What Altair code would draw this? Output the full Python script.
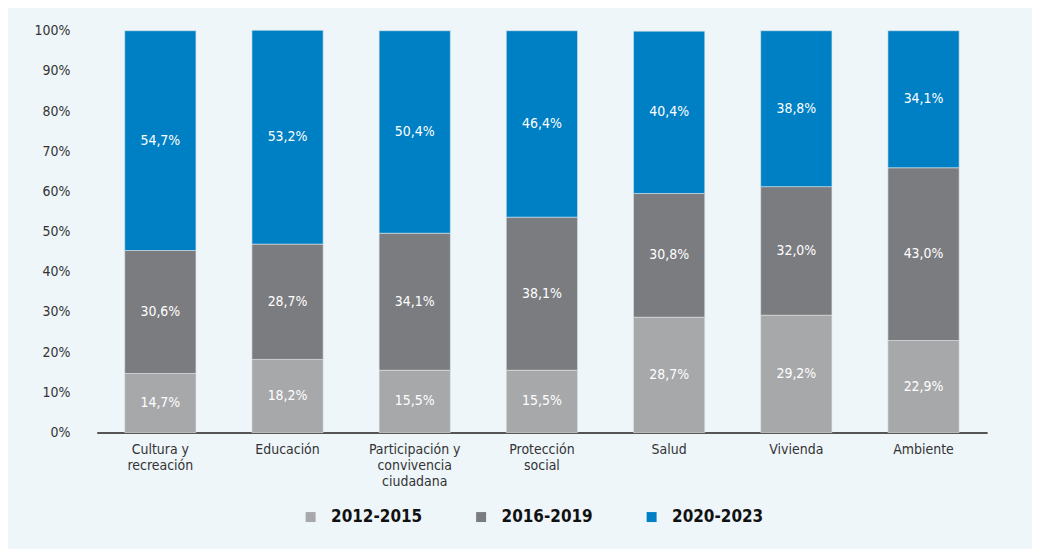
import json
import altair as alt
import pandas as pd

categories = ["Cultura y recreación", "Educación", "Participación y convivencia ciudadana",
              "Protección social", "Salud", "Vivienda", "Ambiente"]
category_lines = [["Cultura y", "recreación"], ["Educación"],
                  ["Participación y", "convivencia", "ciudadana"],
                  ["Protección", "social"], ["Salud"], ["Vivienda"], ["Ambiente"]]
periods = ["2012-2015", "2016-2019", "2020-2023"]
colors = ["#A7A8AA", "#7B7C7F", "#0080C4"]
v_2012_2015 = [14.7, 18.2, 15.5, 15.5, 28.7, 29.2, 22.9]
v_2016_2019 = [30.6, 28.7, 34.1, 38.1, 30.8, 32.0, 43.0]
v_2020_2023 = [54.7, 53.2, 50.4, 46.4, 40.4, 38.8, 34.1]
y_ticks = [0, 10, 20, 30, 40, 50, 60, 70, 80, 90, 100]

rows = []
for pi, (p, vals) in enumerate(zip(periods, [v_2012_2015, v_2016_2019, v_2020_2023])):
    for c, v in zip(categories, vals):
        rows.append({"cat": c, "period": p, "order": pi, "value": v,
                     "label": f"{v:.1f}".replace(".", ",") + "%"})
df = pd.DataFrame(rows)

label_map = json.dumps(dict(zip(categories, category_lines)), ensure_ascii=False)
FONT = "DejaVu Sans Condensed, Liberation Sans Narrow, sans-serif"

x_enc = alt.X("cat:N", sort=categories,
              scale=alt.Scale(paddingInner=0.44, paddingOuter=0.22),
              axis=alt.Axis(title=None, labelAngle=0, ticks=False, domainColor="#555555",
                            domainWidth=2, labelFontSize=14, labelColor="#333333",
                            labelPadding=10, labelLineHeight=16, labelFont=FONT,
                            labelExpr=label_map + "[datum.label]"))

bars = alt.Chart(df).mark_bar(stroke="#dfe5e8", strokeWidth=0.6).encode(
    x=x_enc,
    y=alt.Y("value:Q", stack="zero", scale=alt.Scale(domain=[0, 100], nice=False),
            axis=alt.Axis(title=None, values=y_ticks, domain=False, ticks=False, grid=False,
                          labelExpr="datum.value + '%'", labelFontSize=14,
                          labelColor="#333333", labelPadding=27, labelFont=FONT)),
    color=alt.Color("period:N", sort=periods,
                    scale=alt.Scale(domain=periods, range=colors),
                    legend=alt.Legend(title=None, orient="none", legendX=206, legendY=479,
                                      direction="horizontal", columns=3, symbolType="square",
                                      symbolSize=100, symbolStrokeWidth=0, labelFontSize=17,
                                      labelFontWeight="bold", labelColor="#111111",
                                      labelFont=FONT, labelOffset=12, columnPadding=50)),
    order=alt.Order("order:Q"),
)

texts = alt.Chart(df).transform_window(
    cum="sum(value)", groupby=["cat"], sort=[alt.SortField("order")],
    frame=[None, 0]
).transform_calculate(
    mid="datum.cum - datum.value / 2"
).mark_text(color="white", fontSize=14, font=FONT).encode(
    x=alt.X("cat:N", sort=categories),
    y=alt.Y("mid:Q"),
    text="label:N",
)

chart = alt.layer(bars, texts).properties(
    width=893, height=403,
    autosize=alt.AutoSizeParams(type="none"),
    padding={"left": 89, "top": 22, "right": 45, "bottom": 116},
    background="#EEF6FA",
).configure_view(stroke=None)

chart.save("out.html", embed_options={"renderer": "svg", "actions": False})
